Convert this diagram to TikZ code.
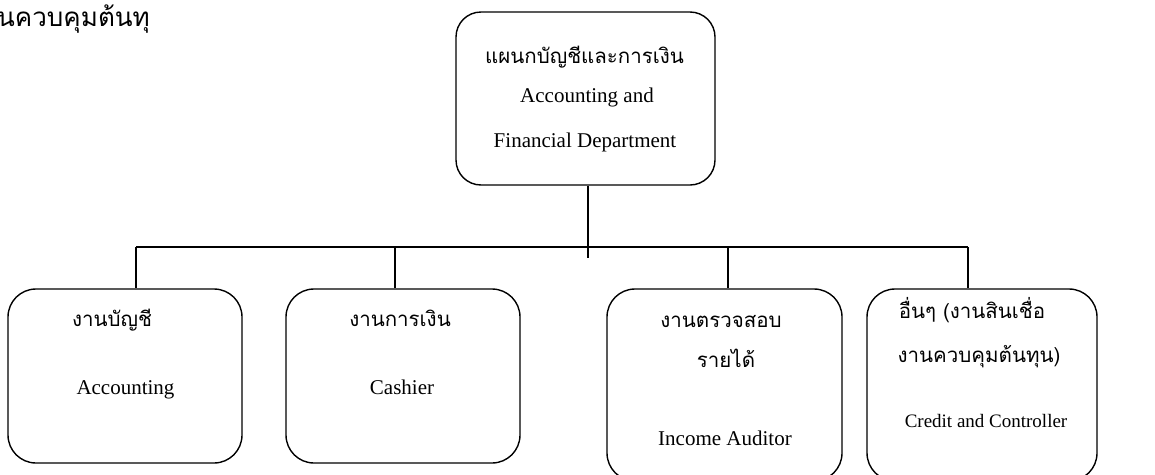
\documentclass[tikz,border=0pt]{standalone}
\usepackage{fontspec}
\setmainfont{Liberation Serif}
\newfontfamily\thai[Script=Thai]{Loma}
\begin{document}
\begin{tikzpicture}[x=1pt,y=-1pt,
  unitbox/.style={draw, line width=1.4pt, rounded corners=28pt, inner sep=0pt},
  link/.style={line width=1.4pt},
  eng/.style={font=\fontsize{21}{24}\selectfont, inner sep=0pt, anchor=base},
  engsm/.style={font=\fontsize{19}{22}\selectfont, inner sep=0pt, anchor=base},
  thtxt/.style={font=\thai\fontsize{20.5}{24}\selectfont, inner sep=0pt, anchor=base},
  thbig/.style={font=\thai\fontsize{26}{30}\selectfont, inner sep=0pt, anchor=base west}]
\useasboundingbox (0,0) rectangle (1155,474);
\begin{scope}
\clip (0,0) rectangle (1155,474);

% heading fragment at the top-left edge
\node[thbig] (frag) at (-3,26) {นควบคุมต้นทุ};

% department box
\node[unitbox, rounded corners=25pt, minimum width=259pt, minimum height=173pt] (top) at (585.5,98.5) {};
\node[thtxt] (topth) at (584.5,63) {แผนกบัญชีและการเงิน};
\node[eng] (topen1) at (587,102) {Accounting and};
\node[eng] (topen2) at (585,147) {Financial Department};

% unit boxes
\node[unitbox, minimum width=234pt, minimum height=174pt] (b1) at (125,376) {};
\node[unitbox, minimum width=234pt, minimum height=174pt] (b2) at (403,376) {};
\node[unitbox, minimum width=235pt, minimum height=192pt] (b3) at (724.5,385) {};
\node[unitbox, minimum width=230pt, minimum height=192pt] (b4) at (982,385) {};

\node[thtxt] (b1th) at (112,326) {งานบัญชี};
\node[eng] (b1en) at (125.5,394) {Accounting};

\node[thtxt] (b2th) at (400,326) {งานการเงิน};
\node[eng] (b2en) at (402,394) {Cashier};

\node[thtxt] (b3th1) at (721,327) {งานตรวจสอบ};
\node[thtxt] (b3th2) at (726,367) {รายได้};
\node[eng] (b3en) at (725,445) {Income Auditor};

\node[thtxt] (b4th1) at (972,318) {อื่นๆ (งานสินเชื่อ};
\node[thtxt] (b4th2) at (979,362) {งานควบคุมต้นทุน)};
\node[engsm] (b4en) at (986,427) {Credit and Controller};

% connectors
\coordinate (trunk) at (588,258);
\coordinate (busL) at (136,247);
\coordinate (bus2) at (395,247);
\coordinate (bus3) at (728,247);
\coordinate (busR) at (968,247);
\draw[link] (top.south -| trunk) -- (trunk);
\draw[link] (busL) -- (busR);
\draw[link] (busL) -- (busL |- b1.north);
\draw[link] (bus2) -- (bus2 |- b2.north);
\draw[link] (bus3) -- (bus3 |- b3.north);
\draw[link] (busR) -- (busR |- b4.north);
\end{scope}
\end{tikzpicture}
\end{document}
